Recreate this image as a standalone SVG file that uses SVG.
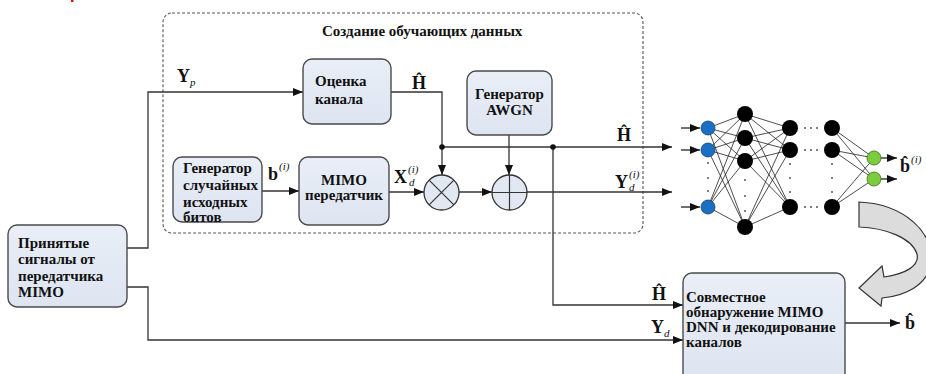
<svg xmlns="http://www.w3.org/2000/svg" width="926" height="374" viewBox="0 0 926 374">
  <defs>
    <marker id="arr" viewBox="0 0 10 8" refX="10" refY="4" markerWidth="10" markerHeight="8" markerUnits="userSpaceOnUse" orient="auto">
      <path d="M0,0 L10,4 L0,8 Z" fill="#111"/>
    </marker>
    <linearGradient id="boxfill" x1="0" y1="0" x2="0" y2="1">
      <stop offset="0" stop-color="#e9eef7"/>
      <stop offset="1" stop-color="#dde5f1"/>
    </linearGradient>
    <style>
      .box { fill: url(#boxfill); stroke: #4a4a4a; stroke-width: 1.4; }
      .lbl { font-family: "Liberation Serif", "DejaVu Serif", serif; font-weight: bold; font-size: 15px; fill: #111; }
      .ttl { font-family: "Liberation Serif", "DejaVu Serif", serif; font-weight: bold; font-size: 15px; fill: #111; }
      .math { font-family: "Liberation Serif", "DejaVu Serif", serif; font-weight: bold; font-size: 18px; fill: #111; }
      .idx { font-family: "Liberation Serif", "DejaVu Serif", serif; font-style: italic; font-weight: normal; font-size: 11px; fill: #111; }
      .wa { fill: none; stroke: #333; stroke-width: 1.3; marker-end: url(#arr); }
      .op { fill: #e2e8f2; stroke: #333; stroke-width: 1.3; }
      .edge { stroke: #222; stroke-width: 0.8; }
      .nin { fill: #1a6fc4; stroke: #1d3f66; stroke-width: 0.8; }
      .nh { fill: #000; }
      .nout { fill: #7dcc3e; stroke: #3b6b1a; stroke-width: 0.8; }
      .dot { fill: #555; }
    </style>
  </defs>

  <rect width="926" height="374" fill="#fff"/>
  <!-- clipped red fragment at the top edge -->
  <rect x="71" y="0" width="2.5" height="2" fill="#e01010"/>

  <!-- training data generation frame -->
  <g id="frame">
    <rect x="163" y="13" width="480" height="220" rx="9" fill="none" stroke="#555" stroke-width="1.1" stroke-dasharray="3,2"/>
    <text class="ttl" x="322" y="36">Создание обучающих данных</text>
  </g>

  <!-- connectors -->
  <g id="connectors">
    <!-- received signals -> channel estimation (Yp) -->
    <polyline class="wa" points="127,248 148,248 148,92 303,92"/>
    <!-- received signals -> joint detector (Yd) -->
    <polyline class="wa" points="127,287 148,287 148,340 683,340"/>
    <!-- channel estimate -->
    <polyline class="wa" points="391,92 442,92 442,175"/>
    <polyline class="wa" points="442,147 672,147"/>
    <polyline class="wa" points="553,147 553,305 683,305"/>
    <circle cx="442" cy="147" r="2.8" fill="#111"/>
    <circle cx="553" cy="147" r="2.8" fill="#111"/>
    <!-- bits -> transmitter -->
    <line class="wa" x1="262" y1="191" x2="299" y2="191"/>
    <!-- transmitter -> multiply -> add -> DNN -->
    <line class="wa" x1="389" y1="192" x2="424" y2="192"/>
    <line class="wa" x1="459" y1="192" x2="492" y2="192"/>
    <line class="wa" x1="527" y1="192" x2="672" y2="192"/>
    <!-- AWGN -> add -->
    <line class="wa" x1="509" y1="135" x2="509" y2="175"/>
    <!-- detector output -->
    <line class="wa" x1="845" y1="323" x2="900" y2="323"/>
  </g>

  <!-- math labels on connectors -->
  <g id="labels">
    <text class="math" x="177" y="82">Y</text><text class="idx" x="190" y="86">p</text>
    <text class="math" x="412" y="89">Ĥ</text>
    <text class="math" x="268" y="180">b</text><text class="idx" x="279" y="170">(i)</text>
    <text class="math" x="394" y="183">X</text><text class="idx" x="408" y="173">(i)</text><text class="idx" x="409" y="186">d</text>
    <text class="math" x="617" y="141">Ĥ</text>
    <text class="math" x="615" y="188">Y</text><text class="idx" x="629" y="178">(i)</text><text class="idx" x="629" y="191">d</text>
    <text class="math" x="652" y="300">Ĥ</text>
    <text class="math" x="651" y="333">Y</text><text class="idx" x="664" y="337">d</text>
    <text class="math" x="905" y="329">b̂</text>
    <text class="math" x="900" y="172">b̂<tspan class="idx" dy="-9" dx="1">(i)</tspan></text>
  </g>

  <g id="received">
    <rect class="box" x="8" y="225" width="119" height="82" rx="9"/>
    <text class="lbl" x="18" y="248">Принятые</text>
    <text class="lbl" x="18" y="264">сигналы от</text>
    <text class="lbl" x="18" y="281">передатчика</text>
    <text class="lbl" x="18" y="297">MIMO</text>
  </g>

  <g id="channel-estimation">
    <rect class="box" x="303" y="59" width="88" height="65" rx="9"/>
    <text class="lbl" x="315" y="86">Оценка</text>
    <text class="lbl" x="315" y="104">канала</text>
  </g>

  <g id="awgn">
    <rect class="box" x="467" y="71" width="85" height="64" rx="9"/>
    <text class="lbl" x="509.5" y="99" text-anchor="middle">Генератор</text>
    <text class="lbl" x="509.5" y="115" text-anchor="middle">AWGN</text>
  </g>

  <g id="bit-generator">
    <rect class="box" x="173" y="157" width="89" height="65" rx="9"/>
    <text class="lbl" x="183" y="173" font-size="14.5">Генератор</text>
    <text class="lbl" x="183" y="190" font-size="14.5">случайных</text>
    <text class="lbl" x="183" y="207" font-size="14.5">исходных</text>
    <text class="lbl" x="183" y="222" font-size="14.5">битов</text>
  </g>

  <g id="transmitter">
    <rect class="box" x="299" y="157" width="90" height="68" rx="9"/>
    <text class="lbl" x="344" y="185" text-anchor="middle">MIMO</text>
    <text class="lbl" x="344" y="200" text-anchor="middle">передатчик</text>
  </g>

  <g id="multiply">
    <circle class="op" cx="441.5" cy="192.5" r="17.5"/>
    <path d="M429.1,180.1 L453.9,204.9 M453.9,180.1 L429.1,204.9" stroke="#333" stroke-width="1.2"/>
  </g>

  <g id="add">
    <circle class="op" cx="509.5" cy="192.5" r="17.5"/>
    <path d="M492,192.5 H527 M509.5,175 V210" stroke="#333" stroke-width="1.2"/>
  </g>

  <g id="joint-detector">
    <rect class="box" x="683" y="273" width="162" height="110" rx="9"/>
    <text class="lbl" x="686" y="302">Совместное</text>
    <text class="lbl" x="686" y="317">обнаружение MIMO</text>
    <text class="lbl" x="686" y="332">DNN и декодирование</text>
    <text class="lbl" x="686" y="347">каналов</text>
  </g>

  <!-- deep neural network -->
  <g id="dnn">
    <g class="edge">
      <line x1="681" y1="128" x2="700" y2="128" stroke="#111" stroke-width="1.2" marker-end="url(#arr)"/>
      <line x1="681" y1="150" x2="700" y2="150" stroke="#111" stroke-width="1.2" marker-end="url(#arr)"/>
      <line x1="681" y1="207" x2="700" y2="207" stroke="#111" stroke-width="1.2" marker-end="url(#arr)"/>
      <!-- input -> hidden 1 -->
      <line x1="708" y1="128" x2="745" y2="114"/><line x1="708" y1="128" x2="745" y2="138"/><line x1="708" y1="128" x2="745" y2="161"/><line x1="708" y1="128" x2="745" y2="227"/>
      <line x1="708" y1="150" x2="745" y2="114"/><line x1="708" y1="150" x2="745" y2="138"/><line x1="708" y1="150" x2="745" y2="161"/><line x1="708" y1="150" x2="745" y2="227"/>
      <line x1="708" y1="207" x2="745" y2="114"/><line x1="708" y1="207" x2="745" y2="138"/><line x1="708" y1="207" x2="745" y2="161"/><line x1="708" y1="207" x2="745" y2="227"/>
      <!-- hidden 1 -> hidden 2 -->
      <line x1="745" y1="114" x2="790" y2="128"/><line x1="745" y1="114" x2="790" y2="150"/><line x1="745" y1="114" x2="790" y2="207"/>
      <line x1="745" y1="138" x2="790" y2="128"/><line x1="745" y1="138" x2="790" y2="150"/><line x1="745" y1="138" x2="790" y2="207"/>
      <line x1="745" y1="161" x2="790" y2="128"/><line x1="745" y1="161" x2="790" y2="150"/><line x1="745" y1="161" x2="790" y2="207"/>
      <line x1="745" y1="227" x2="790" y2="128"/><line x1="745" y1="227" x2="790" y2="150"/><line x1="745" y1="227" x2="790" y2="207"/>
      <!-- last hidden -> output -->
      <line x1="832" y1="128" x2="874" y2="158"/><line x1="832" y1="128" x2="874" y2="179"/>
      <line x1="832" y1="150" x2="874" y2="158"/><line x1="832" y1="150" x2="874" y2="179"/>
      <line x1="832" y1="207" x2="874" y2="158"/><line x1="832" y1="207" x2="874" y2="179"/>
      <line x1="881" y1="158" x2="897" y2="158" stroke="#111" stroke-width="1.2" marker-end="url(#arr)"/>
      <line x1="881" y1="179" x2="897" y2="179" stroke="#111" stroke-width="1.2" marker-end="url(#arr)"/>
    </g>
    <circle class="nin" cx="708" cy="128" r="7"/>
    <circle class="nin" cx="708" cy="150" r="7"/>
    <circle class="nin" cx="708" cy="207" r="7"/>
    <circle class="nh" cx="745" cy="114" r="8"/>
    <circle class="nh" cx="745" cy="138" r="8"/>
    <circle class="nh" cx="745" cy="161" r="8"/>
    <circle class="nh" cx="745" cy="227" r="8"/>
    <circle class="nh" cx="790" cy="128" r="8"/>
    <circle class="nh" cx="790" cy="150" r="8"/>
    <circle class="nh" cx="790" cy="207" r="8"/>
    <circle class="nh" cx="832" cy="128" r="8"/>
    <circle class="nh" cx="832" cy="150" r="8"/>
    <circle class="nh" cx="832" cy="207" r="8"/>
    <circle class="nout" cx="874" cy="158" r="7"/>
    <circle class="nout" cx="874" cy="179" r="7"/>
    <!-- ellipsis dots -->
    <g class="dot">
      <circle cx="708" cy="163" r="1"/><circle cx="708" cy="178" r="1"/><circle cx="708" cy="191" r="1"/>
      <circle cx="745" cy="180" r="1"/><circle cx="745" cy="196" r="1"/><circle cx="745" cy="211" r="1"/>
      <circle cx="790" cy="164" r="1"/><circle cx="790" cy="178" r="1"/><circle cx="790" cy="192" r="1"/>
      <circle cx="832" cy="164" r="1"/><circle cx="832" cy="178" r="1"/><circle cx="832" cy="192" r="1"/>
      <circle cx="805" cy="128" r="1"/><circle cx="811" cy="128" r="1"/><circle cx="817" cy="128" r="1"/>
      <circle cx="805" cy="150" r="1"/><circle cx="811" cy="150" r="1"/><circle cx="817" cy="150" r="1"/>
      <circle cx="805" cy="207" r="1"/><circle cx="811" cy="207" r="1"/><circle cx="817" cy="207" r="1"/>
    </g>
  </g>

  <!-- curved arrow: trained network feeds the detector -->
  <g id="feedback-arrow">
    <path d="M859,202 L859,227 C886,228 912,238 917,254 C920,266 905,274 884,277 L882,266 L859,288 L881,306 L882,298 C906,296 926,285 931,265 C936,234 905,204 859,202 Z" fill="#dcdcdc" stroke="#333" stroke-width="1.2"/>
  </g>
</svg>
